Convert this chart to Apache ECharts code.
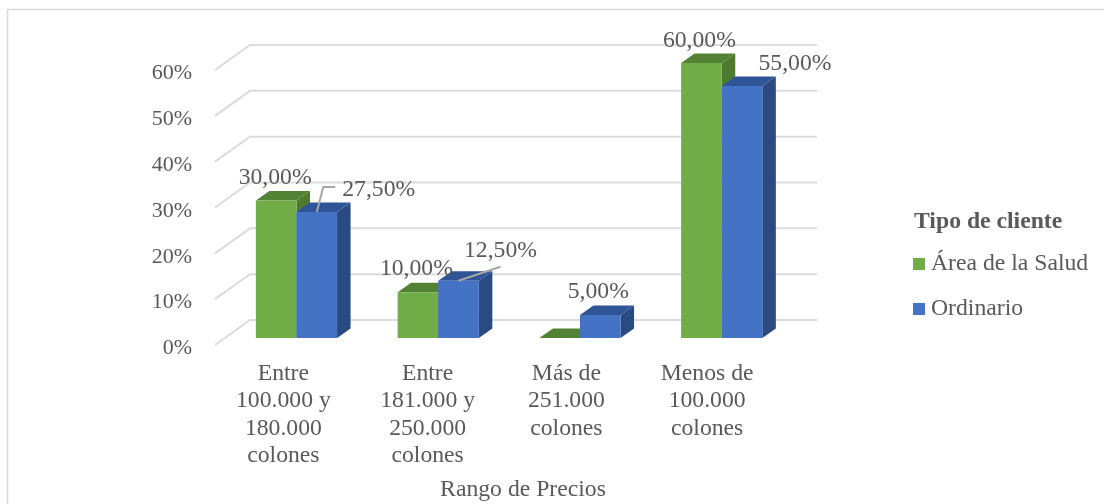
<!DOCTYPE html>
<html>
<head>
<meta charset="utf-8">
<style>
  html, body { margin: 0; padding: 0; background: #fff; }
  #chart { width: 1104px; height: 504px; }
</style>
<script src="https://cdn.jsdelivr.net/npm/echarts@6/dist/echarts.min.js"></script>
</head>
<body>
<div id="chart"></div>
<script>
// Precios: distribución por tipo de cliente
const categories = [
  'Entre\n100.000 y\n180.000\ncolones',
  'Entre\n181.000 y\n250.000\ncolones',
  'Más de\n251.000\ncolones',
  'Menos de\n100.000\ncolones'
];
const areaSalud = [0.30, 0.10, 0, 0.60];
const ordinario = [0.275, 0.125, 0.05, 0.55];
const yTicks = [0, 0.1, 0.2, 0.3, 0.4, 0.5, 0.6];

const FONT = '"Liberation Serif", "Times New Roman", serif';
const FONT_SIZE = 23.7;
const TEXT = '#595959';

// Pseudo-3D projection, in pixels
const WALL = { dx: 35, dy: -25 };      // front floor edge to back wall
const INSET = { dx: 10.6, dy: -7 };    // front floor edge to bar front face
const DEPTH = { dx: 13.5, dy: -9.5 };  // depth of a bar
const BAR_W = 40.6;

// Label placement relative to the top centre of each bar's front face; null = no label
const salLabel = [[-1, -23], [-1.5, -23.5], null, [-2, -22.5]];
const ordLabel = [[62, -22.5], [42, -30], [-2, -23.5], [53, -22.5]];
// Leader lines from the bar top to a displaced label
const ordLeader = [[[0, 0], [6.5, -25], [18.5, -25]], [[0, 0], [42, -14]], null, null];
// Horizontal nudge of each category label block (right padding, px)
const categoryPad = [5, 0, 6, 8];

const barPalette = {
  salud: { front: '#70ad47', top: '#548235', side: '#4d7a2e' },
  ord:   { front: '#4472c4', top: '#2f5597', side: '#2a4a82' }
};

function barFront(api, side) {
  const p = api.coord([api.value(0), api.value(1)]);
  const base = api.coord([api.value(0), 0]);
  const x0 = p[0] + INSET.dx + (side < 0 ? -BAR_W : 0);
  return { x0, x1: x0 + BAR_W, top: p[1] + INSET.dy, bottom: base[1] + INSET.dy };
}

function poly(points, fill) {
  return { type: 'polygon', shape: { points }, style: { fill } };
}

function barRenderer(side, colors) {
  return function (params, api) {
    const b = barFront(api, side);
    const d = DEPTH;
    return {
      type: 'group',
      children: [
        poly([[b.x1, b.top], [b.x1 + d.dx, b.top + d.dy], [b.x1 + d.dx, b.bottom + d.dy], [b.x1, b.bottom]], colors.side),
        poly([[b.x0, b.top], [b.x0 + d.dx, b.top + d.dy], [b.x1 + d.dx, b.top + d.dy], [b.x1, b.top]], colors.top),
        { type: 'rect', shape: { x: b.x0, y: b.top, width: b.x1 - b.x0, height: b.bottom - b.top }, style: { fill: colors.front } }
      ]
    };
  };
}

function labelRenderer(side, shifts, leaders) {
  return function (params, api) {
    const shift = shifts[params.dataIndex];
    if (!shift) return null;
    const b = barFront(api, side);
    const cx = (b.x0 + b.x1) / 2;
    const text = (api.value(1) * 100).toFixed(2).replace('.', ',') + '%';
    const children = [];
    const leader = leaders && leaders[params.dataIndex];
    if (leader) {
      children.push({
        type: 'polyline',
        shape: { points: leader.map(q => [cx + q[0], b.top + q[1]]) },
        style: { stroke: '#a6a6a6', lineWidth: 2, fill: null }
      });
    }
    children.push({
      type: 'text',
      style: {
        x: cx + shift[0], y: b.top + shift[1], text,
        font: FONT_SIZE + 'px ' + FONT, fill: TEXT, align: 'center', verticalAlign: 'middle'
      }
    });
    return { type: 'group', children };
  };
}

// Side wall and back wall rules for a tick
function wallRenderer(params, api) {
  const y = api.coord([0, api.value(1)])[1];
  const g = params.coordSys;
  return {
    type: 'polyline',
    shape: { points: [[g.x, y], [g.x + WALL.dx, y + WALL.dy], [g.x + g.width + WALL.dx, y + WALL.dy]] },
    style: { stroke: '#dcdcdc', lineWidth: 2, fill: null }
  };
}

const pairs = arr => arr.map((v, i) => [i, v]);

// One rich style per category so each block can carry its own padding
const categoryRich = {};
categoryPad.forEach((pad, i) => {
  categoryRich['c' + i] = {
    fontFamily: FONT, fontSize: FONT_SIZE, color: TEXT, lineHeight: 27.5,
    padding: [0, pad, 0, 0]
  };
});

const chart = echarts.init(document.getElementById('chart'), null, { renderer: 'canvas' });
chart.setOption({
  animation: false,
  backgroundColor: '#ffffff',
  title: {
    text: 'Tipo de cliente',
    left: 909, top: 205,
    textStyle: { fontFamily: FONT, fontSize: FONT_SIZE, fontWeight: 'bold', color: TEXT }
  },
  legend: {
    orient: 'vertical',
    left: 908, top: 247,
    itemWidth: 12, itemHeight: 12, itemGap: 21,
    icon: 'rect',
    data: ['Área de la Salud', 'Ordinario'],
    textStyle: { fontFamily: FONT, fontSize: FONT_SIZE, color: TEXT, padding: [0, 0, 0, 1] },
    selectedMode: false
  },
  grid: { left: 215, right: 322, top: 70, bottom: 159, outerBoundsMode: 'none' },
  xAxis: {
    type: 'category',
    data: categories,
    name: 'Rango de Precios',
    nameLocation: 'middle',
    nameGap: 133,
    nameTextStyle: { fontFamily: FONT, fontSize: FONT_SIZE, color: TEXT, padding: [0, 0, 0, 49] },
    axisLine: { show: false },
    axisTick: { show: false },
    axisLabel: {
      interval: 0, margin: 15,
      fontFamily: FONT, fontSize: FONT_SIZE, color: TEXT, lineHeight: 27.5,
      formatter: (value, index) => value.split('\n').map(l => '{c' + index + '|' + l + '}').join('\n'),
      rich: categoryRich
    }
  },
  yAxis: {
    type: 'value',
    min: 0, max: 0.6, interval: 0.1,
    axisLine: { show: false },
    axisTick: { show: false },
    splitLine: { show: false },
    axisLabel: {
      margin: 23,
      fontFamily: FONT, fontSize: 22, color: TEXT,
      // tick text sits a little below its rule
      verticalAlign: 'top', lineHeight: 7,
      formatter: v => Math.round(v * 100) + '%'
    }
  },
  graphic: [{
    type: 'polyline',
    silent: true,
    shape: { points: [[7.5, 504], [7.5, 9.5], [1104, 9.5]] },
    style: { stroke: '#d9d9d9', lineWidth: 1.5, fill: null }
  }],
  series: [
    { type: 'custom', name: 'paredes', silent: true, z: 1,
      renderItem: wallRenderer, data: yTicks.map(v => [0, v]) },
    { type: 'custom', name: 'Área de la Salud', z: 2,
      itemStyle: { color: barPalette.salud.front },
      renderItem: barRenderer(-1, barPalette.salud), data: pairs(areaSalud) },
    { type: 'custom', name: 'Ordinario', z: 3,
      itemStyle: { color: barPalette.ord.front },
      renderItem: barRenderer(1, barPalette.ord), data: pairs(ordinario) },
    { type: 'custom', name: 'etiquetas-salud', silent: true, z: 4,
      renderItem: labelRenderer(-1, salLabel, null), data: pairs(areaSalud) },
    { type: 'custom', name: 'etiquetas-ordinario', silent: true, z: 4,
      renderItem: labelRenderer(1, ordLabel, ordLeader), data: pairs(ordinario) }
  ]
});
</script>
</body>
</html>
